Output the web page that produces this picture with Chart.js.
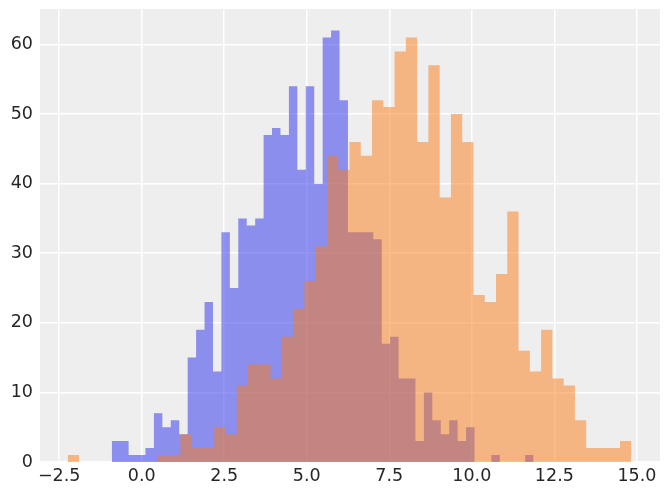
<!DOCTYPE html>
<html>
<head>
<meta charset="utf-8">
<script src="https://cdn.jsdelivr.net/npm/chart.js@4.4.0/dist/chart.umd.min.js"></script>
<style>
  html, body { margin: 0; padding: 0; background: #ffffff; }
</style>
</head>
<body>
<canvas id="histChart" width="669" height="496"></canvas>
<script>
// counts per bin, 50 bins each
const blueCounts = [3, 3, 1, 1, 2, 7, 5, 6, 4, 15,
                    19, 23, 13, 33, 25, 35, 34, 35, 47, 48,
                    47, 54, 42, 54, 40, 61, 62, 52, 33, 33,
                    33, 32, 17, 18, 12, 12, 3, 10, 6, 4,
                    6, 3, 5, 0, 0, 1, 0, 0, 0, 1];
const orangeCounts = [1, 0, 0, 0, 0, 0, 0, 0, 1, 1,
                      4, 2, 2, 5, 4, 11, 14, 14, 12, 18,
                      22, 26, 31, 44, 42, 46, 44, 52, 51, 59,
                      61, 46, 57, 38, 50, 46, 24, 23, 27, 36,
                      16, 13, 19, 12, 11, 6, 2, 2, 2, 3];
// first and last bin edge of each histogram
const blueRange = [-0.907, 11.870];
const orangeRange = [-2.240, 14.830];
const xTicks = [-2.5, 0, 2.5, 5, 7.5, 10, 12.5, 15];
const yTicks = [0, 10, 20, 30, 40, 50, 60];

// left edge of every bin, plus the closing right edge
function binPoints(counts, range) {
    let w = (range[1] - range[0]) / counts.length;
    let pts = counts.map((c, i) => ({x: range[0] + i * w, y: c}));
    pts.push({x: range[1], y: 0});
    return pts;
}

const plotBackground = {
    id: 'plotBackground',
    beforeDraw(chart) {
        const {ctx, chartArea} = chart;
        ctx.save();
        ctx.fillStyle = '#eeeeee';
        ctx.fillRect(chartArea.left, chartArea.top, chartArea.right - chartArea.left, chartArea.bottom - chartArea.top);
        ctx.restore();
    }
};

const tickFont = {family: 'DejaVu Sans', size: 17.5};

// fixed axis sizes, no extra room for edge labels
function fitBox(s, size) {
    if (s.isHorizontal()) s.height = size; else s.width = size;
    s.paddingTop = 0; s.paddingBottom = 0;
    s.paddingLeft = 0; s.paddingRight = 0;
}

const ctx = document.getElementById('histChart').getContext('2d');
const histChart = new Chart(ctx, {
    type: 'line',
    data: {
        datasets: [{
            label: 'blue',
            data: binPoints(blueCounts, blueRange),
            stepped: true,
            fill: 'origin',
            backgroundColor: 'rgba(42, 46, 236, 0.5)',
            borderColor: 'transparent',
            borderWidth: 0,
            pointRadius: 0,
            order: 1
        }, {
            label: 'orange',
            data: binPoints(orangeCounts, orangeRange),
            stepped: true,
            fill: 'origin',
            backgroundColor: 'rgba(250, 124, 23, 0.5)',
            borderColor: 'transparent',
            borderWidth: 0,
            pointRadius: 0,
            order: 0
        }]
    },
    options: {
        responsive: false,
        animation: false,
        devicePixelRatio: 1,
        layout: {padding: {top: 9, right: 9, left: 0, bottom: 0}},
        plugins: {
            legend: {display: false},
            tooltip: {enabled: false}
        },
        scales: {
            x: {
                type: 'linear',
                min: -3.08,
                max: 15.70,
                border: {display: false},
                grid: {color: '#ffffff', lineWidth: 1.5, drawTicks: false},
                ticks: {
                    font: tickFont,
                    color: '#262626',
                    padding: 4,
                    maxRotation: 0,
                    autoSkip: false,
                    callback: v => v.toFixed(1).replace('-', '\u2212')
                },
                afterBuildTicks: s => { s.ticks = xTicks.map(v => ({value: v})); },
                afterFit: s => fitBox(s, 34)
            },
            y: {
                min: 0,
                max: 65.1,
                border: {display: false},
                grid: {color: '#ffffff', lineWidth: 1.5, drawTicks: false},
                ticks: {
                    font: tickFont,
                    color: '#262626',
                    padding: 7,
                    callback: v => String(v)
                },
                afterBuildTicks: s => { s.ticks = yTicks.map(v => ({value: v})); },
                afterFit: s => fitBox(s, 40)
            }
        }
    },
    plugins: [plotBackground]
});
</script>
</body>
</html>
